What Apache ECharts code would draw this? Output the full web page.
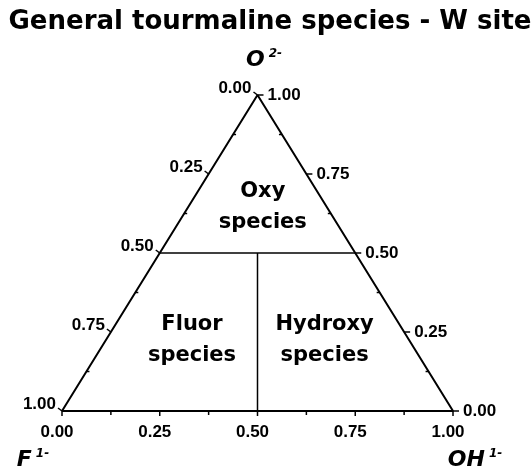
<!DOCTYPE html>
<html>
<head>
<meta charset="utf-8">
<script src="https://cdn.jsdelivr.net/npm/echarts@6/dist/echarts.min.js"></script>
<style>
  html, body { margin: 0; background: #fff; }
  #main { width: 532px; height: 472px; }
</style>
</head>
<body>
<div id="main"></div>
<script>
// axis ticks, same on all three sides
var tickValues = [0, 0.25, 0.5, 0.75, 1];
var tickLabels = ['0.00', '0.25', '0.50', '0.75', '1.00'];
var minorValues = [0.125, 0.375, 0.625, 0.875];

// field boundaries
var oxyLimit = 0.5;   // O2- fraction above which it is oxy species
var fluorOhSplit = 0.5; // F / (F + OH) split under it

// field names and where they sit, as O2- and OH1- fractions
var fieldNames = ['Oxy\nspecies', 'Fluor\nspecies', 'Hydroxy\nspecies'];
var fieldO = [0.647, 0.223, 0.223];
var fieldOH = [0.19, 0.221, 0.56];

// O2- at the top, F1- bottom left, OH1- bottom right
function toXY(o, oh) { return [oh + o / 2, o]; }

// each side: value t -> [O, OH]
var sides = {
  bottom: function (t) { return [0, t]; },       // OH1-, 0 at left
  left:   function (t) { return [1 - t, 0]; },   // F1-, 0 at top
  right:  function (t) { return [t, 1 - t]; }    // O2-, 0 at bottom right
};

var tickList = [];
Object.keys(sides).forEach(function (s) {
  tickValues.forEach(function (t, i) {
    var p = sides[s](t);
    tickList.push({ side: s, major: true, label: tickLabels[i], xy: toXY(p[0], p[1]) });
  });
  minorValues.forEach(function (t) {
    var p = sides[s](t);
    tickList.push({ side: s, major: false, label: '', xy: toXY(p[0], p[1]) });
  });
});

var frame = [toXY(0, 0), toXY(0, 1), toXY(1, 0), toXY(0, 0)];
var oxyLine = [toXY(oxyLimit, 0), toXY(oxyLimit, 1 - oxyLimit)];
var splitLine = [
  toXY(oxyLimit, (1 - oxyLimit) * fluorOhSplit),
  toXY(0, fluorOhSplit)
];

var labelFont = 'Liberation Sans, Arial, sans-serif';
var boldFont = 'DejaVu Sans, Verdana, sans-serif';

function renderTick(params, api) {
  var t = tickList[params.dataIndex];
  var p = api.coord([api.value(0), api.value(1)]);
  var d, txt = null;
  if (t.side === 'bottom') {
    d = [0, t.major ? 5 : 4];
    if (t.major) txt = { x: p[0] - 5, y: p[1] + 21, align: 'center' };
  } else if (t.side === 'left') {
    d = t.major ? [-4, -3] : [3, 0];
    if (t.major) txt = { x: p[0] - 6, y: p[1] - 7, align: 'right' };
  } else {
    d = t.major ? [6, 0] : [-3, 0];
    if (t.major) txt = { x: p[0] + 10, y: p[1], align: 'left' };
  }
  var children = [{
    type: 'line',
    shape: { x1: p[0], y1: p[1], x2: p[0] + d[0], y2: p[1] + d[1] },
    style: { stroke: '#000', lineWidth: 1.5 }
  }];
  if (txt) {
    children.push({
      type: 'text',
      x: txt.x, y: txt.y,
      style: {
        text: t.label, fill: '#000', align: txt.align, verticalAlign: 'middle',
        font: 'bold 17px ' + labelFont
      }
    });
  }
  return { type: 'group', children: children };
}

function renderField(params, api) {
  var p = api.coord([api.value(0), api.value(1)]);
  return {
    type: 'text', x: p[0], y: p[1],
    style: {
      text: fieldNames[params.dataIndex], fill: '#000',
      align: 'center', verticalAlign: 'middle',
      font: 'bold 21px ' + boldFont, lineHeight: 31
    }
  };
}

var chart = echarts.init(document.getElementById('main'));

var cornerRich = {
  b: { fontFamily: boldFont, fontWeight: 'bold', fontStyle: 'italic', fontSize: 22, fill: '#000' },
  s: { fontFamily: boldFont, fontWeight: 'bold', fontStyle: 'italic', fontSize: 12, fill: '#000', verticalAlign: 'bottom', padding: [0, 0, 13, 4] }
};

chart.setOption({
  animation: false,
  backgroundColor: '#fff',
  grid: { left: 62, right: 79, top: 95, bottom: 61 },
  xAxis: { type: 'value', min: 0, max: 1, show: false },
  yAxis: { type: 'value', min: 0, max: 1, show: false },
  graphic: [
    {
      type: 'text', x: 270, y: 22,
      style: {
        text: 'General tourmaline species - W site',
        font: 'bold 26px ' + boldFont, fill: '#000',
        align: 'center', verticalAlign: 'middle'
      }
    },
    {
      type: 'text', x: 264, y: 60,
      style: { text: '{b|O}{s|2-}', rich: cornerRich, align: 'center', verticalAlign: 'middle' }
    },
    {
      type: 'text', x: 33, y: 460,
      style: { text: '{b|F}{s|1-}', rich: cornerRich, align: 'center', verticalAlign: 'middle' }
    },
    {
      type: 'text', x: 475, y: 460,
      style: { text: '{b|OH}{s|1-}', rich: cornerRich, align: 'center', verticalAlign: 'middle' }
    }
  ],
  series: [
    {
      type: 'line', data: frame, symbol: 'none', silent: true,
      lineStyle: { color: '#000', width: 2 }
    },
    {
      type: 'line', data: oxyLine, symbol: 'none', silent: true,
      lineStyle: { color: '#000', width: 1.5 }
    },
    {
      type: 'line', data: splitLine, symbol: 'none', silent: true,
      lineStyle: { color: '#000', width: 1.5 }
    },
    {
      type: 'custom', silent: true,
      data: tickList.map(function (t) { return t.xy; }),
      renderItem: renderTick
    },
    {
      type: 'custom', silent: true,
      data: fieldNames.map(function (n, i) { return toXY(fieldO[i], fieldOH[i]); }),
      renderItem: renderField
    }
  ]
});
</script>
</body>
</html>
